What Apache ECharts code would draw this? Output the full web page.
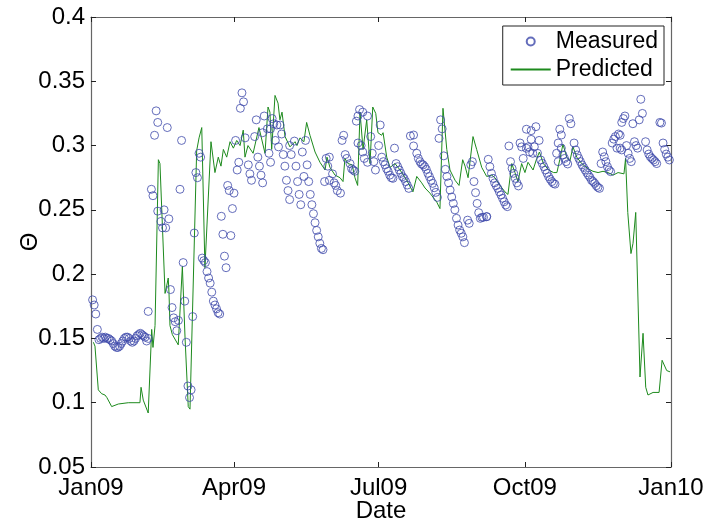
<!DOCTYPE html>
<html>
<head>
<meta charset="utf-8">
<script src="https://cdn.jsdelivr.net/npm/echarts@6/dist/echarts.min.js"></script>
<style>html,body{margin:0;padding:0;background:#fff}#c{width:705px;height:522px}</style>
</head>
<body>
<div id="c"></div>
<script>
// Day offsets counted from 1 Jan 2009
const measuredDay = [1,2,3,4,5,6,7,8,9,10,11,12,13,14,15,16,17,18,19,20,21,22,23,24,25,26,27,28,29,30,31,32,33,34,35,36,36,
38,39,40,41,42,42,44,45,46,47,48,49,50,51,52,53,54,55,56,57,58,59,60,61,62,63,64,65,66,67,68,69,70,71,72,73,74,75,76,77,78,79,80,81,82,83,84,85,86,87,88,89,90,91,92,93,94,95,96,
97,99,100,101,103,104,105,106,107,108,108,109,111,112,113,113,114,115,116,117,118,119,120,121,122,123,124,125,125,126,128,129,130,131,132,133,134,135,136,137,138,139,140,141,142,143,144,145,146,
147,148,149,150,150,152,153,154,155,157,158,159,160,161,163,164,165,166,
167,168,168,169,170,171,171,172,174,174,176,177,178,179,181,182,183,184,185,186,187,188,189,190,
191,192,193,194,195,196,197,198,199,200,201,203,203,205,206,207,208,209,210,211,212,213,214,215,216,217,218,
219,220,221,222,223,224,225,226,227,228,229,230,231,232,233,234,235,237,238,239,240,241,242,243,244,245,246,247,249,249,
250,251,252,253,254,255,256,257,258,259,260,261,262,263,264,265,266,267,268,269,270,271,272,274,274,275,276,277,277,278,279,280,281,282,
283,284,285,286,287,288,289,290,291,292,293,294,294,295,296,296,297,298,299,300,301,302,304,305,306,307,308,309,310,311,312,313,314,315,316,317,318,319,320,
321,322,323,324,325,326,327,328,329,330,331,332,333,333,334,334,335,336,337,338,339,340,341,342,343,344,345,346,347,349,350,351,352,353,354,355,356,358,359,360,361,362,363,364];
const measuredTheta = [0.180,0.176,0.169,0.157,0.149,0.150,0.151,0.150,0.151,0.150,0.150,0.149,0.148,0.146,0.144,0.143,0.143,0.144,0.146,0.148,0.150,0.151,0.151,0.150,0.148,0.147,0.148,0.150,0.152,0.153,0.154,0.153,0.152,0.151,0.148,0.150,0.171,
0.266,0.261,0.308,0.327,0.318,0.249,0.241,0.236,0.250,0.236,0.314,0.243,0.188,0.174,0.166,0.163,0.156,0.164,0.266,0.304,0.209,0.179,0.147,0.113,0.104,0.110,0.167,0.232,0.279,0.275,0.294,0.291,0.2125,0.2105,0.209,0.202,0.197,0.193,0.186,0.179,0.176,0.173,0.170,0.169,0.245,0.231,0.214,0.205,0.269,0.265,0.230,0.251,0.263,0.304,0.281,0.287,0.329,0.341,0.334,
0.306,0.285,0.278,0.273,0.307,0.320,0.291,0.284,0.277,0.271,0.310,0.323,0.313,0.294,0.287,0.313,0.321,0.317,0.304,0.316,0.299,0.316,0.309,0.293,0.284,0.273,0.265,0.258,0.300,0.293,0.3035,0.284,0.272,0.262,0.254,0.295,0.276,0.304,0.285,0.272,0.262,0.254,0.247,0.240,0.234,0.229,0.224,0.220,0.219,
0.272,0.290,0.284,0.273,0.291,0.278,0.271,0.269,0.265,0.263,0.304,0.308,0.293,0.290,0.286,0.282,0.281,0.280,
0.319,0.302,0.323,0.328,0.300,0.326,0.295,0.290,0.287,0.323,0.307,0.294,0.2875,0.281,0.300,0.316,0.291,0.2875,0.285,0.282,0.280,0.277,0.275,0.2745,
0.298,0.286,0.2836,0.281,0.2784,0.2758,0.2745,0.272,0.2693,0.2667,0.3075,0.3082,0.2997,0.294,0.290,0.2875,0.2857,0.285,0.2836,0.2815,0.2784,0.2758,0.273,0.2706,0.2672,0.2636,0.2597,
0.3056,0.320,0.313,0.292,0.2815,0.276,0.271,0.2654,0.260,0.255,0.250,0.2434,0.2382,0.2343,0.2318,0.229,0.2245,0.242,0.2395,0.285,0.2875,0.272,0.2634,0.255,0.2478,0.2434,0.2442,0.2442,0.2447,0.2447,
0.2893,0.2836,0.2784,0.2745,0.271,0.2688,0.2667,0.264,0.2616,0.259,0.2563,0.2538,0.2525,0.2997,0.2875,0.2823,0.2784,0.2745,0.271,0.2686,0.302,0.299,0.290,0.3127,0.2979,0.299,0.295,0.3116,0.3048,0.294,0.299,0.3147,0.294,0.304,
0.2888,0.2862,0.2836,0.281,0.2784,0.2758,0.2738,0.272,0.2706,0.270,0.294,0.2875,0.302,0.3127,0.3082,0.298,0.2927,0.290,0.2875,0.2857,0.321,0.317,0.302,0.2966,0.2927,0.290,0.2875,0.285,0.283,0.281,0.2789,0.277,0.2753,0.273,0.272,0.2706,0.2688,0.2675,0.2667,
0.286,0.295,0.2913,0.2875,0.2836,0.281,0.2797,0.302,0.305,0.307,0.298,0.309,0.308,0.298,0.2966,0.318,0.321,0.323,0.300,0.294,0.290,0.2875,0.317,0.303,0.300,0.298,0.320,0.336,0.325,0.303,0.2966,0.2934,0.2913,0.290,0.2888,0.2875,0.286,0.318,0.3175,0.302,0.297,0.2934,0.291,0.2888];

const predictedDay = [1.5,2.5,4.6,6.7,8.8,10,13,17.2,23.5,30.8,31.5,32.9,36,38.2,39,40.3,42.4,43.4,46.6,47.5,48.6,49.1,49.7,51.2,54.9,57.5,59.2,61.2,62.3,66.5,68,69.7,71.7,75.5,78,80.1,81.8,83.3,85.4,87.5,89.6,91.7,93.8,95.8,96.9,98.8,102,105.7,109.5,111.4,112.6,113.7,115.8,117.7,118.9,120.2,122.1,125.2,128.4,129.6,131.5,134,135.7,137.8,141,144.1,147.3,148.5,150.4,153.6,156.7,158.6,159.8,161.7,164.3,166.1,167.8,169.3,171.2,173.5,175.6,177.3,179.2,180.6,182.9,183.8,186.1,188.2,191.3,194.5,198.7,202.6,205,208.1,210.2,213.3,217.6,219.6,221.5,223.9,225.9,229.1,231.6,233.9,235.4,237.3,240.4,242.7,245.9,249,252.2,254.2,257.4,260.5,262.4,264.8,266.8,268.7,271,273.1,275,278.2,280.5,282.2,284.7,288,291.1,293.2,295,297,299.4,301.4,303.3,305.7,308.8,312.8,315.9,319.1,322.2,325.4,328.5,331.7,335.4,336.4,337.8,339.8,341.1,342.8,345.5,347.4,349.1,350.5,353.7,357.5,359.4,362.3,364.4];
const predictedTheta = [0.147,0.144,0.110,0.107,0.106,0.104,0.097,0.099,0.100,0.100,0.112,0.102,0.092,0.157,0.143,0.160,0.289,0.286,0.185,0.190,0.197,0.185,0.160,0.153,0.145,0.206,0.150,0.097,0.095,0.296,0.306,0.314,0.205,0.303,0.279,0.291,0.284,0.297,0.291,0.303,0.298,0.304,0.300,0.312,0.291,0.300,0.294,0.314,0.294,0.330,0.326,0.297,0.339,0.333,0.320,0.326,0.307,0.299,0.303,0.300,0.306,0.303,0.318,0.308,0.295,0.287,0.281,0.291,0.283,0.277,0.275,0.272,0.290,0.286,0.285,0.275,0.269,0.326,0.297,0.320,0.286,0.330,0.325,0.310,0.308,0.310,0.291,0.283,0.286,0.281,0.273,0.264,0.276,0.271,0.267,0.263,0.256,0.251,0.329,0.297,0.281,0.273,0.269,0.289,0.284,0.275,0.307,0.297,0.283,0.276,0.277,0.275,0.269,0.264,0.262,0.286,0.279,0.272,0.286,0.279,0.287,0.281,0.290,0.295,0.286,0.281,0.279,0.279,0.289,0.301,0.291,0.288,0.299,0.291,0.286,0.282,0.280,0.279,0.280,0.279,0.277,0.279,0.278,0.290,0.248,0.216,0.224,0.248,0.120,0.154,0.112,0.106,0.108,0.108,0.133,0.125,0.124];

const tickDates = ['2009-01-01','2009-04-01','2009-07-01','2009-10-01','2010-01-01'];
const tickLabels = ['Jan09','Apr09','Jul09','Oct09','Jan10'];

const DAY = 86400000;
const T0 = Date.UTC(2009, 0, 1);
// tick positions expressed as day offsets from 1 Jan 2009
const tickDays = tickDates.map(s => Math.round((Date.parse(s + 'T00:00:00Z') - T0) / DAY));
const measured = measuredDay.map((d, i) => [d, measuredTheta[i]]);
const predicted = predictedDay.map((d, i) => [d, predictedTheta[i]]);

const FONT = 'Liberation Sans, Arial, Helvetica, sans-serif';
const FS = 24;
const AX = '#666';
const GREEN = '#1d8a1d';
const chart = echarts.init(document.getElementById('c'), null, {renderer: 'canvas'});
const xBase = {
  type: 'value', min: tickDays[0], max: tickDays[tickDays.length - 1],
  splitLine: {show: false},
  axisLine: {show: true, onZero: false, lineStyle: {color: AX, width: 1.2}},
  axisTick: {show: true, inside: true, length: 5, customValues: tickDays, lineStyle: {color: '#222'}}
};
const yBase = {
  type: 'value', min: 0.05, max: 0.4, interval: 0.05,
  splitLine: {show: false},
  axisLine: {show: true, onZero: false, lineStyle: {color: AX, width: 1.2}},
  axisTick: {show: true, inside: true, length: 5, lineStyle: {color: '#222'}}
};
chart.setOption({
  animation: false,
  backgroundColor: '#fff',
  textStyle: {fontFamily: FONT},
  grid: {left: 91, right: 34, top: 17, bottom: 55, containLabel: false, outerBoundsMode: 'none'},
  legend: {
    orient: 'vertical', right: 41, top: 26,
    padding: [4, 6, 4, 7], itemGap: 5, itemWidth: 40, itemHeight: 8,
    backgroundColor: '#fff', borderColor: '#222', borderWidth: 1, borderRadius: 0,
    textStyle: {fontSize: 23, color: '#000', fontFamily: FONT},
    data: [
      {name: 'Measured', icon: 'circle'},
      {name: 'Predicted', itemStyle: {color: 'rgba(0,0,0,0)', borderWidth: 0, opacity: 0}}
    ]
  },
  xAxis: [
    Object.assign({}, xBase, {
      position: 'bottom',
      axisLabel: {show: true, customValues: tickDays, color: '#000', fontSize: FS, fontFamily: FONT, margin: 9,
        showMinLabel: true, showMaxLabel: true,
        formatter: v => { const i = tickDays.indexOf(v); return i >= 0 ? tickLabels[i] : ''; }},
      name: 'Date', nameLocation: 'middle', nameGap: 32, nameMoveOverlap: false,
      nameTextStyle: {fontSize: FS, color: '#000', fontFamily: FONT}
    }),
    Object.assign({}, xBase, {position: 'top', axisLabel: {show: false}})
  ],
  yAxis: [
    Object.assign({}, yBase, {
      position: 'left',
      axisLabel: {color: '#000', fontSize: FS, fontFamily: FONT, margin: 6,
        formatter: v => String(parseFloat(v.toFixed(2)))},
      name: 'Θ', nameLocation: 'middle', nameRotate: 90, nameGap: 49, nameMoveOverlap: false,
      nameTextStyle: {fontSize: FS, color: '#000', fontFamily: FONT}
    }),
    Object.assign({}, yBase, {position: 'right', axisLabel: {show: false}})
  ],
  series: [
    {
      name: 'Measured', type: 'scatter', xAxisIndex: 0, yAxisIndex: 0,
      symbol: 'circle', symbolSize: 8,
      itemStyle: {color: 'rgba(0,0,0,0)', borderColor: '#3d48aa', borderWidth: 1},
      data: measured, z: 3
    },
    {
      name: 'Predicted', type: 'line', xAxisIndex: 0, yAxisIndex: 0,
      showSymbol: false, symbol: 'none',
      lineStyle: {color: GREEN, width: 1},
      itemStyle: {color: GREEN},
      data: predicted, z: 2
    }
  ]
});
</script>
</body>
</html>
